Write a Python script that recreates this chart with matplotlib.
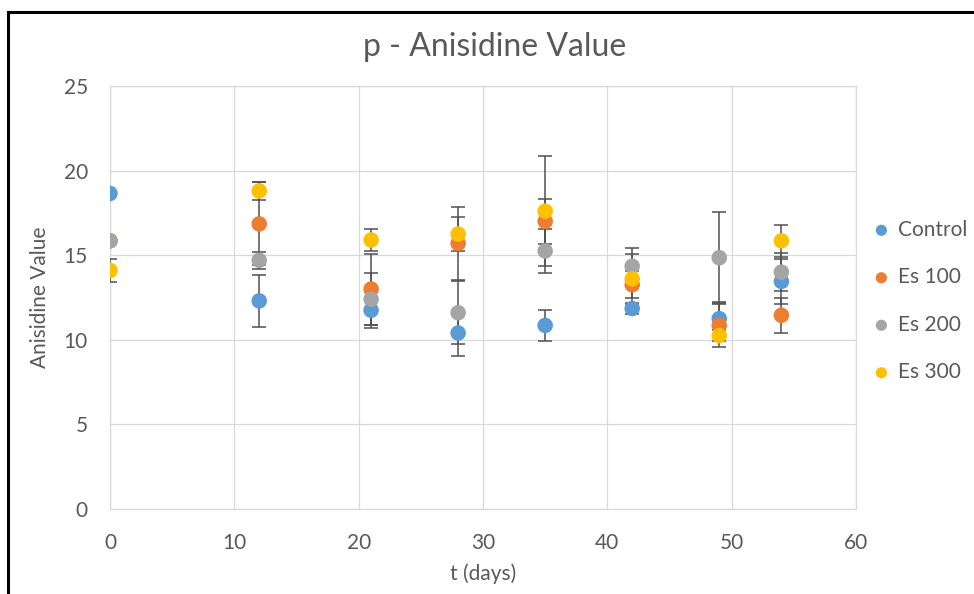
import matplotlib.pyplot as plt
from matplotlib.lines import Line2D

plt.rcParams['font.family'] = ['Lato', 'DejaVu Sans']

days = [0, 12, 21, 28, 35, 42, 49, 54]

control = [18.65, 12.3, 11.75, 10.4, 10.85, 11.85, 11.25, 13.45]
es100 = [15.85, 16.85, 13.0, 15.7, 17.0, 13.25, 10.85, 11.45]
es200 = [15.85, 14.7, 12.4, 11.6, 15.25, 14.35, 14.85, 14.0]
es300 = [14.1, 18.8, 15.9, 16.25, 17.6, 13.6, 10.25, 15.85]

control_err = [0, 1.55, 1.05, 1.35, 0.93, 0.3, 1.0, 1.35]
es100_err = [0, 2.45, 2.1, 2.15, 1.34, 0.8, 1.25, 1.05]
es200_err = [0, 0.5, 1.55, 1.85, 1.3, 1.1, 2.69, 1.11]
es300_err = [0.7, 0.54, 0.65, 1.0, 3.26, 1.5, 0.3, 0.94]

names = ['Control', 'Es 100', 'Es 200', 'Es 300']
colors = ['#5B9BD5', '#ED7D31', '#A5A5A5', '#FFC000']
grey = '#595959'

fig = plt.figure(figsize=(9.74, 5.94), dpi=100)
ax = fig.add_axes([110 / 974, 85 / 594, 746 / 974, 423 / 594])

series = [control, es100, es200, es300]
errors = [control_err, es100_err, es200_err, es300_err]
for i, (vals, err, name, col) in enumerate(zip(series, errors, names, colors)):
    ax.errorbar(days, vals, yerr=err, fmt='none', ecolor='#505050',
                elinewidth=1.1, capsize=5, capthick=1.1, zorder=2 + i)
    ax.scatter(days, vals, s=125, color=col, label=name, zorder=10 + i,
               edgecolors='none')

ax.set_xlim(0, 60)
ax.set_ylim(0, 25)
ax.set_xticks(range(0, 61, 10))
ax.set_yticks(range(0, 26, 5))
ax.grid(True, color='#D9D9D9', linewidth=0.9)
ax.set_axisbelow(True)
for side in ['top', 'right', 'left', 'bottom']:
    ax.spines[side].set_color('#D9D9D9')
    ax.spines[side].set_linewidth(0.9)
ax.tick_params(axis='x', length=0, labelsize=15, colors=grey, pad=17)
ax.tick_params(axis='y', length=0, labelsize=15, colors=grey, pad=16)

ax.set_xlabel('t (days)', fontsize=15, color=grey, labelpad=8)
ax.set_ylabel('Anisidine Value', fontsize=15, color=grey, labelpad=10)
fig.text(495 / 974, 1 - 47 / 594, 'p - Anisidine Value', ha='center',
         va='center', fontsize=23, color=grey)

ax.legend(loc='center left', bbox_to_anchor=(872 / 974, 1 - 301 / 594),
          bbox_transform=fig.transFigure, frameon=False, fontsize=15,
          labelcolor=grey, handlelength=0.9, handletextpad=0.35,
          labelspacing=1.32, borderaxespad=0, borderpad=0, markerscale=0.72)

# chart frame (left and top edges visible)
fig.add_artist(Line2D([8 / 974, 8 / 974], [0, 1 - 12 / 594], color='black', lw=2.2))
fig.add_artist(Line2D([8 / 974, 1], [1 - 12 / 594, 1 - 12 / 594], color='black', lw=2.2))

fig.savefig('out.png', dpi=100)
